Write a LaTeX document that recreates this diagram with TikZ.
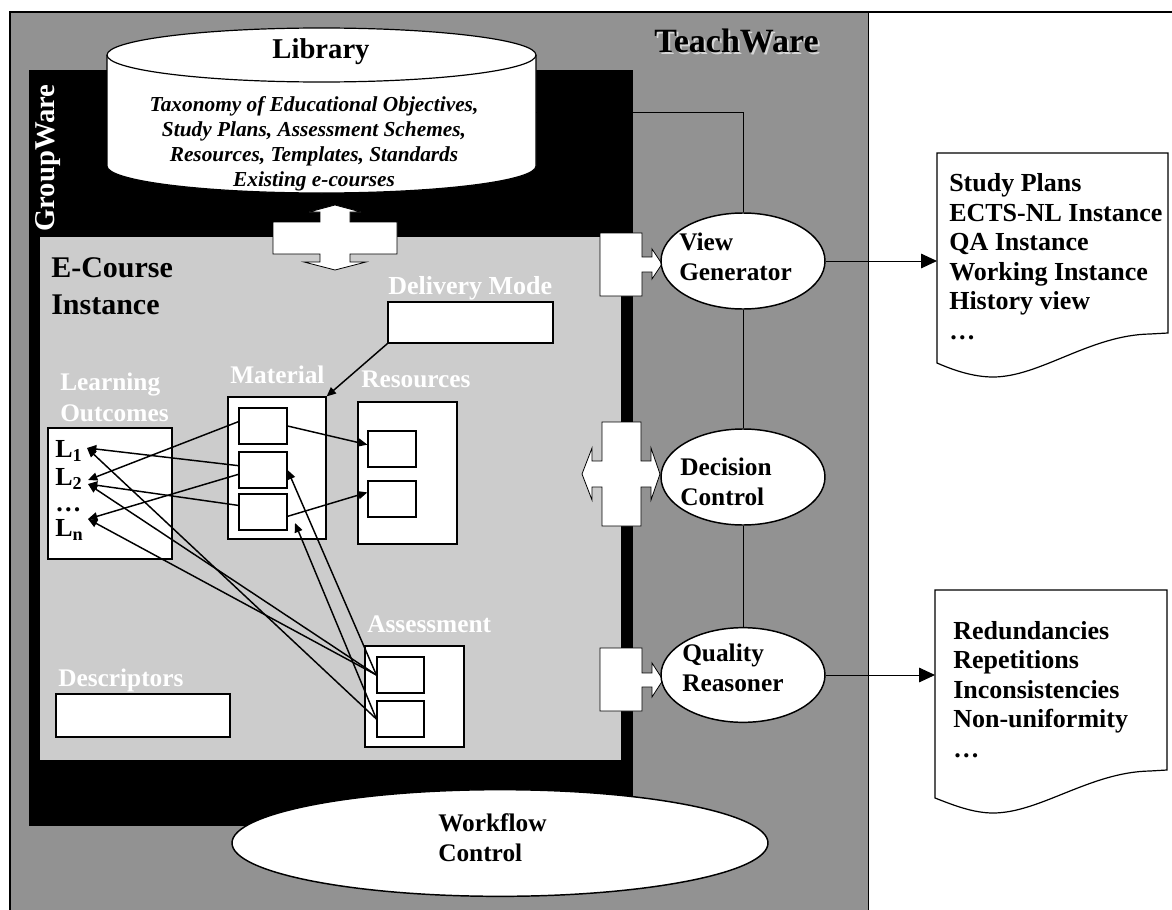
\documentclass[tikz,border=0pt]{standalone}
\usepackage{fontspec}
\setmainfont{Liberation Serif}
\usetikzlibrary{arrows.meta,shapes.geometric,fit}

\definecolor{teachgray}{RGB}{146,146,146}
\definecolor{coursegray}{RGB}{204,204,204}
\definecolor{shadegray}{RGB}{215,215,215}

\tikzset{
  box/.style={draw, fill=white, line width=0.9pt, inner sep=0pt},
  proc/.style={ellipse, draw, fill=white, line width=1.1pt},
  calloutarrow/.style={draw, fill=white, line width=0.6pt, line join=miter},
  txt/.style={inner sep=0pt, anchor=base west, align=left,
    font=\fontsize{19}{22.5}\selectfont\bfseries},
  wtxt/.style={txt, text=white},
  relarrow/.style={line width=1.1pt, -{Triangle[length=7pt,width=6pt]}},
  wire/.style={line width=0.75pt},
  docarrow/.style={line width=0.75pt, -{Triangle[length=12pt,width=11pt]}},
}

\begin{document}
\begin{tikzpicture}[x=0.75pt, y=-0.75pt]
\useasboundingbox (0,0) rectangle (1172,910);
% panels
\fill[teachgray] (10,12) rectangle (868,910);
\draw[line width=0.6pt] (868,12) -- (868,910);
\draw[line width=1.5pt] (10,910) -- (10,12) -- (1172,12);
\fill[black] (29,70) rectangle (633,826);
\fill[coursegray] (40,237) rectangle (621,760);
\node[txt, font=\fontsize{25.5}{30}\selectfont\bfseries, text=shadegray] (twshadow) at (656,54) {TeachWare};
\node[txt, font=\fontsize{25.5}{30}\selectfont\bfseries] (teachware) at (654,52) {TeachWare};
\node[rotate=90, inner sep=0pt, text=white, font=\fontsize{21.5}{26}\selectfont\bfseries] (groupware) at (48,158) {GroupWare};

% library
\draw[line width=0.9pt, fill=white] (107,55) -- (107,166) arc[start angle=180, end angle=0, x radius=214.5, y radius=27] -- (536,55) arc[start angle=0, end angle=-180, x radius=214.5, y radius=27] -- cycle;
\draw[line width=0.9pt] (107,55) arc[start angle=180, end angle=0, x radius=214.5, y radius=27];
\node[inner sep=0pt, font=\fontsize{21.5}{26}\selectfont\bfseries] (libname) at (321,52) {Library};
\node[inner sep=0pt, align=center, font=\fontsize{16}{18.75}\selectfont\bfseries\itshape] (libitems) at (314,144) {Taxonomy of Educational Objectives,\\Study Plans, Assessment Schemes,\\Resources, Templates, Standards\\Existing e-courses};
\coordinate (libside) at (536,112);

% library <-> e-course
\draw[calloutarrow] (273,222) -- (320,222) -- (320,212) -- (309,212) -- (335,205) -- (361,212) -- (350,212) -- (350,222) -- (397,222) -- (397,254) -- (350,254) -- (350,262) -- (366,262) -- (335,270) -- (304,262) -- (320,262) -- (320,254) -- (273,254) -- cycle;

% e-course instance
\node[txt, font=\fontsize{22.5}{27.75}\selectfont\bfseries] (ecourse) at (51,314) {E-Course\\Instance};
\node[wtxt, font=\fontsize{19.5}{23}\selectfont\bfseries] (dmlabel) at (388,294) {Delivery Mode};
\node[box, fit={(388,302) (553,343)}] (delivery) {};
\node[wtxt, font=\fontsize{19}{23.25}\selectfont\bfseries] (lolabel) at (60,421) {Learning\\Outcomes};
\node[box, fit={(48,428) (172,559)}] (lobox) {};
\node[txt, font=\fontsize{19.5}{21}\selectfont\bfseries] (l1) at (55,457) {L\textsubscript{1}};
\node[txt, font=\fontsize{19.5}{21}\selectfont\bfseries] (l2) at (55,485) {L\textsubscript{2}};
\node[txt, font=\fontsize{19.5}{21}\selectfont\bfseries] (ldots) at (55,511) {\dots};
\node[txt, font=\fontsize{19.5}{21}\selectfont\bfseries] (ln) at (55,536) {L\textsubscript{n}};
\coordinate (l1tip) at (87,448);
\coordinate (l2tip) at (88,480);
\coordinate (l2tipb) at (88,484);
\coordinate (lntip) at (88,519);

\node[wtxt] (matlabel) at (230,383) {Material};
\node[box, fit={(228,397) (326,539)}] (material) {};
\node[box, fit={(239,408) (287,444)}] (mat1) {};
\node[box, fit={(239,452) (287,488)}] (mat2) {};
\node[box, fit={(239,494) (287,530)}] (mat3) {};
\coordinate (mat3tip) at (295,523);

\node[wtxt] (reslabel) at (361,387) {Resources};
\node[box, fit={(358,402) (457,544)}] (resources) {};
\node[box, fit={(368,431) (416,467)}] (res1) {};
\node[box, fit={(368,481) (416,517)}] (res2) {};

\node[wtxt] (aslabel) at (367,632) {Assessment};
\node[box, fit={(365,646) (464,747)}] (assessment) {};
\node[box, fit={(377,657) (424,693)}] (as1) {};
\node[box, fit={(377,701) (424,737)}] (as2) {};

\node[wtxt] (desclabel) at (58,686) {Descriptors};
\node[box, fit={(56,694) (230,737)}] (descriptors) {};

\draw[relarrow] (delivery.south west) -- (material.north east);
\draw[relarrow] (mat1.170) -- (l2tip);
\draw[relarrow] (mat2.170) -- (l1tip);
\draw[relarrow] (mat2.190) -- (lntip);
\draw[relarrow] (mat3.165) -- (l2tipb);
\draw[relarrow] (mat1.east) -- (res1.170);
\draw[relarrow] (mat3.-10) -- (res2.165);
\draw[relarrow] (as1.west) -- (l2tipb);
\draw[relarrow] (as1.west) -- (lntip);
\draw[relarrow] (as1.west) -- (mat2.east);
\draw[relarrow] (as2.west) -- (l1tip);
\draw[relarrow] (as2.west) -- (mat3tip);

% teachware services
\draw[calloutarrow] (600,233) -- (642,233) -- (642,257) -- (652,257) -- (652,249) -- (662,264) -- (652,279) -- (652,272) -- (642,272) -- (642,296) -- (600,296) -- cycle;
\draw[calloutarrow] (602,422) -- (641,422) -- (641,461) -- (651,461) -- (651,448) -- (660,474) -- (651,500) -- (651,487) -- (641,487) -- (641,526) -- (602,526) -- (602,487) -- (592,487) -- (592,500) -- (582,474) -- (592,448) -- (592,461) -- (602,461) -- cycle;
\draw[calloutarrow] (600,648) -- (642,648) -- (642,673) -- (652,673) -- (652,663) -- (663,680) -- (652,697) -- (652,687) -- (642,687) -- (642,711) -- (600,711) -- cycle;

\node[proc, minimum width=123pt, minimum height=72pt] (viewgen) at (743,261) {};
\node[proc, minimum width=123pt, minimum height=72pt] (decision) at (743,477) {};
\node[proc, minimum width=123pt, minimum height=71pt] (quality) at (743,675) {};
\node[proc, minimum width=402pt, minimum height=80pt] (workflow) at (500,843) {};
\node[txt] (vgtext) at (679,280) {View\\Generator};
\node[txt] (dctext) at (680,505) {Decision\\Control};
\node[txt] (qrtext) at (682,691) {Quality\\Reasoner};
\node[txt] (wftext) at (438,861) {Workflow\\Control};

\draw[wire] (libside) -| (viewgen.north);
\draw[wire] (viewgen) -- (decision);
\draw[wire] (decision) -- (quality);

% outputs
\coordinate (viewsin) at (937,261);
\coordinate (qualin) at (935,675);
\draw[docarrow] (viewgen.east) -- (viewsin);
\draw[docarrow] (quality.east) -- (qualin);
\draw[box] (937,153) -- (1168,153) -- (1168,333) -- (1150,334) .. controls (1090,335) and (1040,377) .. (993,377) .. controls (973,377) and (953,370) .. (937,363) -- cycle;
\node[txt, font=\fontsize{19.5}{22.1}\selectfont\bfseries] (views) at (949,339) {Study Plans\\ECTS-NL Instance\\QA Instance\\Working Instance\\History view\\\dots};
\draw[box] (935,590) -- (1167,590) -- (1167,770) -- (1150,771) .. controls (1090,772) and (1040,813) .. (993,813) .. controls (973,813) and (953,805) .. (935,798) -- cycle;
\node[txt, font=\fontsize{19.5}{22.1}\selectfont\bfseries] (issues) at (953,757) {Redundancies\\Repetitions\\Inconsistencies\\Non-uniformity\\\dots};
\end{tikzpicture}
\end{document}
